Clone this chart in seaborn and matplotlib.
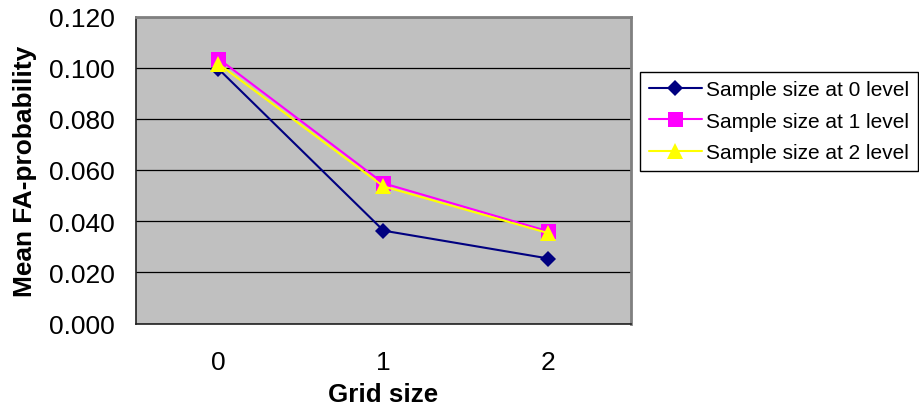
import matplotlib
matplotlib.use("Agg")
import matplotlib.pyplot as plt
import seaborn as sns
import numpy as np

# Data
grid_sizes = [0, 1, 2]
grid_labels = ["0", "1", "2"]
series_names = ["Sample size at 0 level", "Sample size at 1 level", "Sample size at 2 level"]
level0 = [0.0995, 0.0363, 0.0254]
level1 = [0.1035, 0.0548, 0.0360]
level2 = [0.1015, 0.0536, 0.0353]
yticks = [0.000, 0.020, 0.040, 0.060, 0.080, 0.100, 0.120]

sns.set_style("white")
plt.rcParams['font.family'] = ['Liberation Sans', 'DejaVu Sans']
plt.rcParams.update({"text.color": "black", "axes.labelcolor": "black",
                     "xtick.color": "black", "ytick.color": "black"})

W, H = 920, 406
fig = plt.figure(figsize=(W / 100, H / 100), dpi=100)
L, R, T, B = 136, 631, 17.5, 324.5
ax = fig.add_axes([L / W, 1 - B / H, (R - L) / W, (B - T) / H])
ax.set_facecolor("#c0c0c0")

styles = [
    dict(color="#000080", marker="D", markersize=8.3),
    dict(color="#ff00ff", marker="s", markersize=10.8),
    dict(color="#ffff00", marker="^", markersize=11),
]
for name, vals, st in zip(series_names, [level0, level1, level2], styles):
    sns.lineplot(x=grid_sizes, y=vals, ax=ax, color=st["color"], marker=st["marker"],
                 markersize=st["markersize"], markeredgewidth=0, linewidth=1.5,
                 label=name, zorder=3)

ax.set_xlim(-0.5, 2.5)
ax.set_ylim(0, 0.12)
ax.set_yticks(yticks)
ax.set_yticklabels([f"{v:.3f}" for v in yticks])
ax.yaxis.grid(True, color="black", linewidth=0.9, zorder=1)
ax.set_axisbelow(True)

ax.set_xticks(grid_sizes)
ax.set_xticklabels(grid_labels)
ax.set_xticks([-0.5, 0.5, 1.5, 2.5], minor=True)
ax.tick_params(axis="x", which="major", length=0, pad=19, labelsize=19)
ax.tick_params(axis="x", which="minor", length=5, width=1, direction="out", color="black")
ax.tick_params(axis="y", which="major", length=5, width=1, direction="out", color="black",
               pad=10, labelsize=19)

for side in ["left", "bottom"]:
    ax.spines[side].set_color("#202020")
    ax.spines[side].set_linewidth(1.2)
for side in ["top", "right"]:
    ax.spines[side].set_color("#808080")
    ax.spines[side].set_linewidth(2)

ax.set_xlabel("Grid size", fontsize=18.7, fontweight="bold")
ax.xaxis.set_label_coords(0.5, (B - 402) / (B - T))
ax.xaxis.label.set_va("baseline")
ax.set_ylabel("Mean FA-probability", fontsize=18.9, fontweight="bold")
ax.yaxis.set_label_coords((25 - L) / (R - L), 0.5)
ax.yaxis.label.set_va("center")

leg = ax.legend(loc="upper left", bbox_to_anchor=(640 / W, 1 - 72.5 / H),
                bbox_transform=fig.transFigure, borderaxespad=0, fontsize=15,
                handlelength=2.55, handletextpad=0.2, labelspacing=0.6, borderpad=0.42,
                fancybox=False, frameon=True, framealpha=1)
leg.get_frame().set_edgecolor("black")
leg.get_frame().set_linewidth(1)

fig.savefig("out.png", dpi=100, facecolor="white")
